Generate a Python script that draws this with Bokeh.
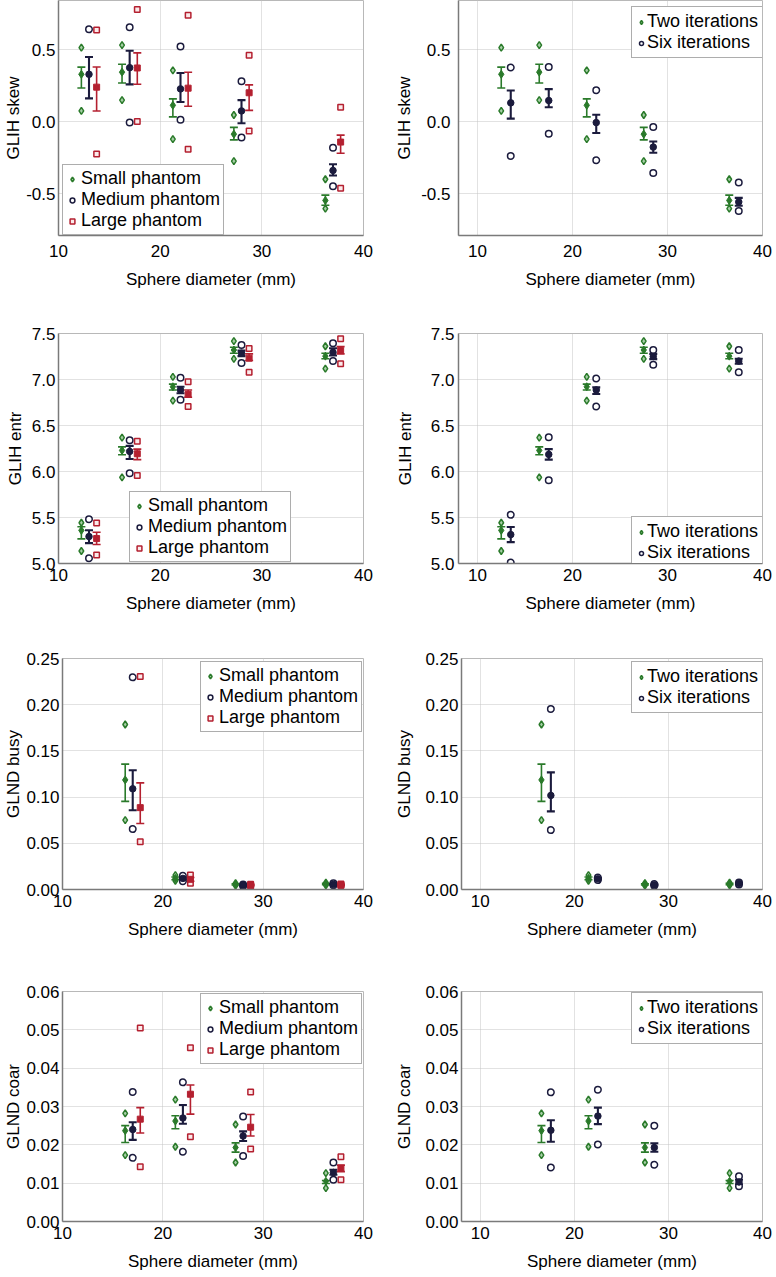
import numpy as np
from bokeh.plotting import figure
from bokeh.models import Range1d, FixedTicker, Whisker, TeeHead, ColumnDataSource, Legend, LegendItem
from bokeh.layouts import column, row
from bokeh.embed import file_html
from bokeh.resources import INLINE

# ---------------- data ----------------
DIAM_SKEW_ENTR = [13, 17, 22, 28, 37]
DIAM_GLND = [17, 22, 28, 37]

X_TICKS = [10, 20, 30, 40]
X_TICK_LABELS = ["10", "20", "30", "40"]
SKEW_TICKS = [-0.5, 0.0, 0.5]
SKEW_TICK_LABELS = ["-0.5", "0.0", "0.5"]
ENTR_TICKS = [5.0, 5.5, 6.0, 6.5, 7.0, 7.5]
ENTR_TICK_LABELS = ["5.0", "5.5", "6.0", "6.5", "7.0", "7.5"]
BUSY_TICKS = [0.0, 0.05, 0.10, 0.15, 0.20, 0.25]
BUSY_TICK_LABELS = ["0.00", "0.05", "0.10", "0.15", "0.20", "0.25"]
COAR_TICKS = [0.0, 0.01, 0.02, 0.03, 0.04, 0.05, 0.06]
COAR_TICK_LABELS = ["0.00", "0.01", "0.02", "0.03", "0.04", "0.05", "0.06"]

PHANTOM_LABELS = ["Small phantom", "Medium phantom", "Large phantom"]
ITER_LABELS = ["Two iterations", "Six iterations"]
X_LABEL = "Sphere diameter (mm)"

# GLIH skew
skew_small = dict(mean=[0.33, 0.345, 0.115, -0.085, -0.545], lo=[0.235, 0.27, 0.035, -0.125, -0.578],
                  hi=[0.38, 0.40, 0.16, -0.038, -0.508], pt_hi=[0.515, 0.533, 0.357, 0.048, -0.398],
                  pt_lo=[0.077, 0.151, -0.119, -0.272, -0.602])
skew_medium = dict(mean=[0.33, 0.376, 0.229, 0.076, -0.337], lo=[0.163, 0.26, 0.138, -0.009, -0.372],
                   hi=[0.45, 0.493, 0.339, 0.151, -0.294], pt_hi=[0.642, 0.656, 0.523, 0.282, -0.179],
                   pt_lo=[-0.35, -0.005, 0.014, -0.108, -0.447])
skew_large = dict(mean=[0.241, 0.374, 0.234, 0.202, -0.14], lo=[0.076, 0.261, 0.108, 0.08, -0.218],
                  hi=[0.381, 0.479, 0.344, 0.257, -0.092], pt_hi=[0.638, 0.78, 0.739, 0.463, 0.101],
                  pt_lo=[-0.222, 0.002, -0.19, -0.064, -0.461])
skew_six = dict(mean=[0.132, 0.148, -0.005, -0.175, -0.555], lo=[0.023, 0.102, -0.077, -0.214, -0.582],
                hi=[0.218, 0.227, 0.05, -0.136, -0.527], pt_hi=[0.377, 0.38, 0.22, -0.036, -0.42],
                pt_lo=[-0.236, -0.082, -0.266, -0.355, -0.618])

# GLIH entr
entr_small = dict(mean=[5.36, 6.229, 6.921, 7.321, 7.254], lo=[5.268, 6.182, 6.886, 7.286, 7.225],
                  hi=[5.40, 6.268, 6.95, 7.35, 7.286], pt_hi=[5.443, 6.368, 7.029, 7.418, 7.361],
                  pt_lo=[5.136, 5.936, 6.771, 7.225, 7.118])
entr_medium = dict(mean=[5.293, 6.218, 6.886, 7.286, 7.296], lo=[5.221, 6.136, 6.85, 7.254, 7.261],
                   hi=[5.361, 6.279, 6.921, 7.314, 7.339], pt_hi=[5.482, 6.339, 7.018, 7.375, 7.393],
                   pt_lo=[5.057, 5.982, 6.779, 7.179, 7.2])
entr_large = dict(mean=[5.271, 6.193, 6.839, 7.232, 7.314], lo=[5.207, 6.129, 6.807, 7.207, 7.279],
                  hi=[5.339, 6.243, 6.886, 7.279, 7.357], pt_hi=[5.439, 6.329, 6.975, 7.336, 7.443],
                  pt_lo=[5.093, 5.957, 6.707, 7.079, 7.171])
entr_six = dict(mean=[5.314, 6.186, 6.886, 7.25, 7.2], lo=[5.232, 6.129, 6.843, 7.221, 7.171],
                hi=[5.396, 6.243, 6.914, 7.279, 7.225], pt_hi=[5.529, 6.371, 7.011, 7.321, 7.321],
                pt_lo=[5.011, 5.904, 6.707, 7.161, 7.079])

# GLND busy
busy_small = dict(mean=[0.1186, 0.012, 0.0055, 0.006], lo=[0.0954, 0.0105, 0.0048, 0.0052],
                  hi=[0.1357, 0.0135, 0.0062, 0.0068], pt_hi=[0.1786, 0.0155, 0.0068, 0.0075],
                  pt_lo=[0.075, 0.0095, 0.0042, 0.0045])
busy_medium = dict(mean=[0.109, 0.012, 0.0045, 0.0055], lo=[0.0857, 0.011, 0.004, 0.005],
                   hi=[0.129, 0.013, 0.005, 0.006], pt_hi=[0.2296, 0.0148, 0.0055, 0.0068],
                   pt_lo=[0.0654, 0.009, 0.0038, 0.0045])
busy_large = dict(mean=[0.0886, 0.011, 0.0048, 0.005], lo=[0.0714, 0.009, 0.0042, 0.0045],
                  hi=[0.1154, 0.013, 0.0055, 0.0055], pt_hi=[0.2304, 0.0158, 0.0058, 0.006],
                  pt_lo=[0.0518, 0.0068, 0.0038, 0.0042])
busy_six = dict(mean=[0.1018, 0.0115, 0.005, 0.0065], lo=[0.0846, 0.0108, 0.0045, 0.006],
                hi=[0.1268, 0.0125, 0.0055, 0.007], pt_hi=[0.1954, 0.013, 0.006, 0.0075],
                pt_lo=[0.0643, 0.0102, 0.004, 0.0055])

# GLND coar
coar_small = dict(mean=[0.0237, 0.0262, 0.0193, 0.0105], lo=[0.0206, 0.0242, 0.0181, 0.0099],
                  hi=[0.025, 0.0276, 0.0205, 0.0107], pt_hi=[0.0282, 0.0318, 0.0253, 0.0126],
                  pt_lo=[0.0173, 0.0195, 0.0154, 0.0087])
coar_medium = dict(mean=[0.024, 0.027, 0.0223, 0.0128], lo=[0.0213, 0.0255, 0.021, 0.0122],
                   hi=[0.0259, 0.0304, 0.0235, 0.0135], pt_hi=[0.0338, 0.0363, 0.0274, 0.0154],
                   pt_lo=[0.0166, 0.0182, 0.0171, 0.0109])
coar_large = dict(mean=[0.0267, 0.0332, 0.0246, 0.0139], lo=[0.0231, 0.028, 0.0223, 0.013],
                  hi=[0.0297, 0.0356, 0.0279, 0.0147], pt_hi=[0.0505, 0.0453, 0.0338, 0.0169],
                  pt_lo=[0.0143, 0.0221, 0.0189, 0.0109])
coar_six = dict(mean=[0.0238, 0.0275, 0.0193, 0.0103], lo=[0.0208, 0.0254, 0.0182, 0.0097],
                hi=[0.0264, 0.0297, 0.0204, 0.0109], pt_hi=[0.0337, 0.0344, 0.025, 0.0118],
                pt_lo=[0.0141, 0.0201, 0.0148, 0.0092])

# ---------------- style ----------------
FONT = "Liberation Sans"
GREEN = "#2a7a2a"
NAVY = "#1b1b3d"
RED = "#b42030"

STYLE = {
    GREEN: dict(marker="diamond", pt_size=7, mean_size=8, lw=1.6, pt_fill="#a6cfa6"),
    NAVY: dict(marker="circle", pt_size=6.5, mean_size=6.5, lw=2.1, pt_fill="white"),
    RED: dict(marker="square", pt_size=5.5, mean_size=6, lw=1.6, pt_fill="#fbeaea"),
}


def make_panel(series, diam, offsets, labels, colors, xr, yr, yticks, ytick_labels, ylabel, g, leg):
    p = figure(width=388, height=g["h"], x_range=Range1d(*xr), y_range=Range1d(*yr),
               output_backend="svg", toolbar_location=None,
               min_border_left=g["l"], min_border_right=g["r"],
               min_border_top=g["t"], min_border_bottom=g["b"])
    p.background_fill_color = "white"
    p.border_fill_color = "white"
    p.outline_line_color = "#b8b8b8"
    p.outline_line_width = 1

    p.xaxis.ticker = FixedTicker(ticks=X_TICKS)
    p.xaxis.major_label_overrides = dict(zip(X_TICKS, X_TICK_LABELS))
    p.yaxis.ticker = FixedTicker(ticks=yticks)
    p.yaxis.major_label_overrides = dict(zip(yticks, ytick_labels))
    p.xgrid.ticker = FixedTicker(ticks=X_TICKS)
    p.ygrid.ticker = FixedTicker(ticks=yticks)
    for gr in (p.xgrid, p.ygrid):
        gr.grid_line_color = "#c4c4c4"
        gr.grid_line_dash = "1 1"
        gr.grid_line_width = 1

    for ax in (p.xaxis, p.yaxis):
        ax.axis_line_color = "#7a7a7a"
        ax.axis_line_width = 1.5
        ax.major_tick_in = 0
        ax.major_tick_out = 0
        ax.minor_tick_in = 0
        ax.minor_tick_out = 0
        ax.major_label_text_font = FONT
        ax.major_label_text_font_size = "17px"
        ax.major_label_text_color = "black"
        ax.axis_label_text_font = FONT
        ax.axis_label_text_font_size = "17px"
        ax.axis_label_text_font_style = "normal"
        ax.axis_label_text_color = "black"
    p.xaxis.axis_label = X_LABEL
    p.yaxis.axis_label = ylabel
    p.xaxis.major_label_standoff = g["xs"]
    p.xaxis.axis_label_standoff = 10
    p.yaxis.major_label_standoff = g["ys"]
    p.yaxis.axis_label_standoff = g["yls"]

    items = []
    d = np.array(diam, dtype=float)
    for s, off, lab, c in zip(series, offsets, labels, colors):
        st = STYLE[c]
        x = d + off
        src = ColumnDataSource(dict(x=x, mean=s["mean"], lo=s["lo"], hi=s["hi"],
                                    pt_hi=s["pt_hi"], pt_lo=s["pt_lo"]))
        r1 = p.scatter("x", "pt_hi", source=src, marker=st["marker"], size=st["pt_size"],
                       line_color=c, line_width=1.5, fill_color=st["pt_fill"])
        p.scatter("x", "pt_lo", source=src, marker=st["marker"], size=st["pt_size"],
                  line_color=c, line_width=1.5, fill_color=st["pt_fill"])
        w = Whisker(source=src, base="x", lower="lo", upper="hi", line_color=c, line_width=st["lw"],
                    upper_head=TeeHead(size=8, line_color=c, line_width=st["lw"]),
                    lower_head=TeeHead(size=8, line_color=c, line_width=st["lw"]))
        p.add_layout(w)
        p.scatter("x", "mean", source=src, marker=st["marker"], size=st["mean_size"],
                  line_color=c, fill_color=c, line_width=1)
        items.append(LegendItem(label=lab, renderers=[r1]))

    legend = Legend(items=items, location=leg["loc"], margin=0, padding=leg["pad"], spacing=0,
                    glyph_width=leg["gw"], glyph_height=18, label_height=18,
                    label_standoff=leg["ls"], label_text_font=FONT, label_text_font_size="18px",
                    label_text_color="black", border_line_color="#5c5c5c", border_line_width=1.5,
                    background_fill_color="white", background_fill_alpha=1.0)
    p.add_layout(legend)
    return p


PH_OFF = [-0.75, 0.0, 0.75]
IT_OFF = [-0.5, 0.5]
PH_COLORS = [GREEN, NAVY, RED]
IT_COLORS = [GREEN, NAVY]
XR_L = (10, 40)
XR_R = (8, 40)

LEG_PH = dict(pad=3, gw=12, ls=3)
LEG_IT = dict(pad=4, gw=10, ls=1)

p1 = make_panel([skew_small, skew_medium, skew_large], DIAM_SKEW_ENTR, PH_OFF, PHANTOM_LABELS, PH_COLORS,
                XR_L, (-0.788, 0.842), SKEW_TICKS, SKEW_TICK_LABELS, "GLIH skew",
                dict(h=291, t=0, b=53, l=58, r=25, xs=9, ys=3, yls=0), dict(LEG_PH, loc=(4, 0)))
p2 = make_panel([skew_small, skew_six], DIAM_SKEW_ENTR, IT_OFF, ITER_LABELS, IT_COLORS,
                XR_R, (-0.788, 0.842), SKEW_TICKS, SKEW_TICK_LABELS, "GLIH skew",
                dict(h=291, t=0, b=53, l=70, r=14, xs=9, ys=8, yls=4), dict(LEG_IT, loc=(173, 177)))
p3 = make_panel([entr_small, entr_medium, entr_large], DIAM_SKEW_ENTR, PH_OFF, PHANTOM_LABELS, PH_COLORS,
                XR_L, (5.0, 7.5), ENTR_TICKS, ENTR_TICK_LABELS, "GLIH entr",
                dict(h=324, t=42, b=49, l=58, r=25, xs=5, ys=3, yls=4), dict(LEG_PH, loc=(71, 1)))
p4 = make_panel([entr_small, entr_six], DIAM_SKEW_ENTR, IT_OFF, ITER_LABELS, IT_COLORS,
                XR_R, (5.0, 7.5), ENTR_TICKS, ENTR_TICK_LABELS, "GLIH entr",
                dict(h=324, t=42, b=49, l=70, r=14, xs=5, ys=4, yls=13), dict(LEG_IT, loc=(173, -5)))
p5 = make_panel([busy_small, busy_medium, busy_large], DIAM_GLND, PH_OFF, PHANTOM_LABELS, PH_COLORS,
                XR_L, (0.0, 0.25), BUSY_TICKS, BUSY_TICK_LABELS, "GLND busy",
                dict(h=326, t=43, b=49, l=62, r=25, xs=5, ys=3, yls=0), dict(LEG_PH, loc=(138, 157)))
p6 = make_panel([busy_small, busy_six], DIAM_GLND, IT_OFF, ITER_LABELS, IT_COLORS,
                XR_R, (0.0, 0.25), BUSY_TICKS, BUSY_TICK_LABELS, "GLND busy",
                dict(h=326, t=43, b=49, l=73, r=14, xs=5, ys=3, yls=8), dict(LEG_IT, loc=(170, 176)))
p7 = make_panel([coar_small, coar_medium, coar_large], DIAM_GLND, PH_OFF, PHANTOM_LABELS, PH_COLORS,
                XR_L, (0.0, 0.06), COAR_TICKS, COAR_TICK_LABELS, "GLND coar",
                dict(h=332, t=50, b=49, l=62, r=25, xs=5, ys=3, yls=0), dict(LEG_PH, loc=(138, 157)))
p8 = make_panel([coar_small, coar_six], DIAM_GLND, IT_OFF, ITER_LABELS, IT_COLORS,
                XR_R, (0.0, 0.06), COAR_TICKS, COAR_TICK_LABELS, "GLND coar",
                dict(h=332, t=50, b=49, l=73, r=14, xs=5, ys=3, yls=8), dict(LEG_IT, loc=(170, 177)))

layout = column(row(p1, p2), row(p3, p4), row(p5, p6), row(p7, p8))

with open("out.html", "w") as f:
    f.write(file_html(layout, INLINE))
